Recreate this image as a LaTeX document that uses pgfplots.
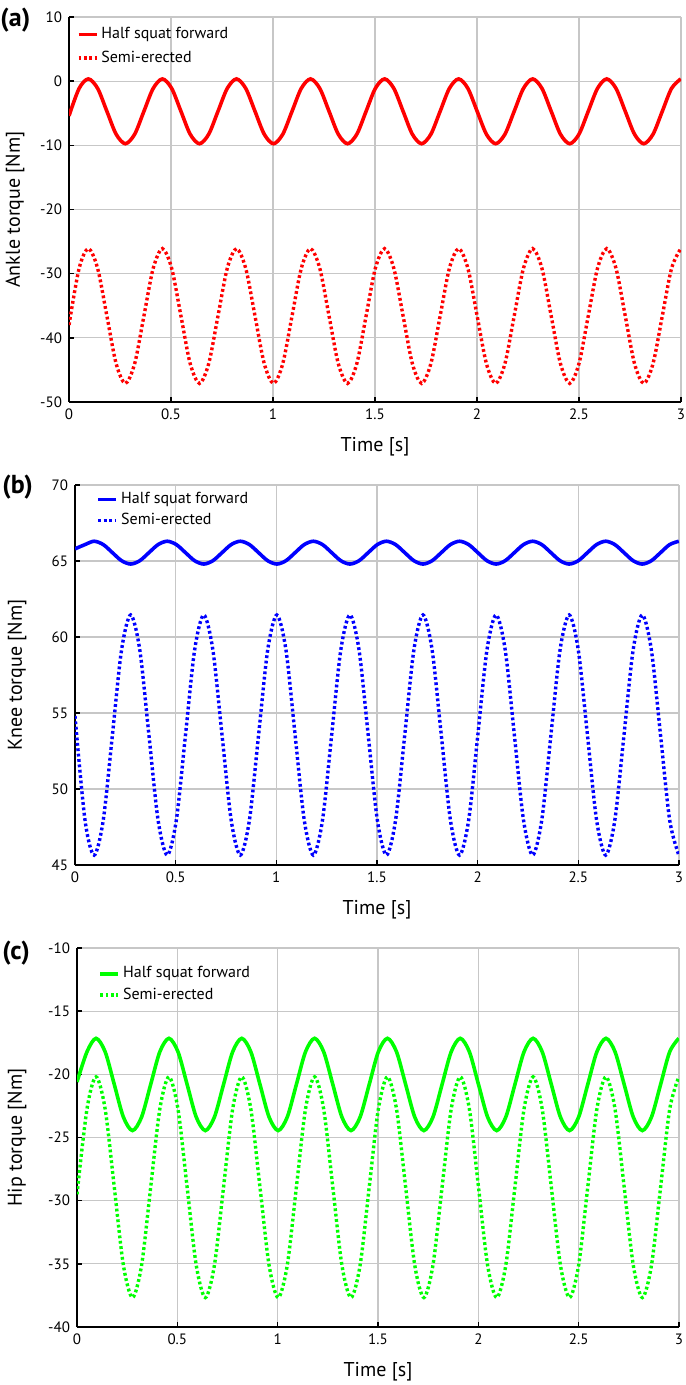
\documentclass[border=0pt]{standalone}
\usepackage{pgfplots}
\pgfplotsset{compat=1.18}
\usepackage{pgfplotstable}
\usepackage{fontspec}
\setmainfont{PT Sans}

\pgfplotstableread{
t a1 a2 b1 b2 c1 c2
0.0000 -5.40 -38.00 65.80 54.80 -20.60 -29.50
0.0496 -1.13 -29.18 66.08 47.96 -18.22 -22.76
0.0950 0.35 -26.10 66.30 45.65 -17.15 -20.20
0.1404 -1.13 -29.18 66.08 47.96 -18.22 -22.76
0.1858 -4.70 -36.60 65.55 53.55 -20.80 -28.93
0.2311 -8.27 -44.02 65.02 59.14 -23.38 -35.10
0.2765 -9.75 -47.10 64.80 61.45 -24.45 -37.67
0.3219 -8.27 -44.02 65.02 59.14 -23.38 -35.10
0.3672 -4.70 -36.60 65.55 53.55 -20.80 -28.93
0.4126 -1.13 -29.18 66.08 47.96 -18.22 -22.76
0.4580 0.35 -26.10 66.30 45.65 -17.15 -20.20
0.5034 -1.13 -29.18 66.08 47.96 -18.22 -22.76
0.5488 -4.70 -36.60 65.55 53.55 -20.80 -28.93
0.5941 -8.27 -44.02 65.02 59.14 -23.38 -35.10
0.6395 -9.75 -47.10 64.80 61.45 -24.45 -37.67
0.6849 -8.27 -44.02 65.02 59.14 -23.38 -35.10
0.7303 -4.70 -36.60 65.55 53.55 -20.80 -28.93
0.7756 -1.13 -29.18 66.08 47.96 -18.22 -22.76
0.8210 0.35 -26.10 66.30 45.65 -17.15 -20.20
0.8664 -1.13 -29.18 66.08 47.96 -18.22 -22.76
0.9118 -4.70 -36.60 65.55 53.55 -20.80 -28.93
0.9571 -8.27 -44.02 65.02 59.14 -23.38 -35.10
1.0025 -9.75 -47.10 64.80 61.45 -24.45 -37.67
1.0479 -8.27 -44.02 65.02 59.14 -23.38 -35.10
1.0933 -4.70 -36.60 65.55 53.55 -20.80 -28.93
1.1386 -1.13 -29.18 66.08 47.96 -18.22 -22.76
1.1840 0.35 -26.10 66.30 45.65 -17.15 -20.20
1.2294 -1.13 -29.18 66.08 47.96 -18.22 -22.76
1.2748 -4.70 -36.60 65.55 53.55 -20.80 -28.93
1.3201 -8.27 -44.02 65.02 59.14 -23.38 -35.10
1.3655 -9.75 -47.10 64.80 61.45 -24.45 -37.67
1.4109 -8.27 -44.02 65.02 59.14 -23.38 -35.10
1.4563 -4.70 -36.60 65.55 53.55 -20.80 -28.93
1.5016 -1.13 -29.18 66.08 47.96 -18.22 -22.76
1.5470 0.35 -26.10 66.30 45.65 -17.15 -20.20
1.5924 -1.13 -29.18 66.08 47.96 -18.22 -22.76
1.6378 -4.70 -36.60 65.55 53.55 -20.80 -28.93
1.6831 -8.27 -44.02 65.02 59.14 -23.38 -35.10
1.7285 -9.75 -47.10 64.80 61.45 -24.45 -37.67
1.7739 -8.27 -44.02 65.02 59.14 -23.38 -35.10
1.8193 -4.70 -36.60 65.55 53.55 -20.80 -28.93
1.8646 -1.13 -29.18 66.08 47.96 -18.22 -22.76
1.9100 0.35 -26.10 66.30 45.65 -17.15 -20.20
1.9554 -1.13 -29.18 66.08 47.96 -18.22 -22.76
2.0008 -4.70 -36.60 65.55 53.55 -20.80 -28.93
2.0461 -8.27 -44.02 65.02 59.14 -23.38 -35.10
2.0915 -9.75 -47.10 64.80 61.45 -24.45 -37.67
2.1369 -8.27 -44.02 65.02 59.14 -23.38 -35.10
2.1823 -4.70 -36.60 65.55 53.55 -20.80 -28.93
2.2276 -1.13 -29.18 66.08 47.96 -18.22 -22.76
2.2730 0.35 -26.10 66.30 45.65 -17.15 -20.20
2.3184 -1.13 -29.18 66.08 47.96 -18.22 -22.76
2.3638 -4.70 -36.60 65.55 53.55 -20.80 -28.93
2.4091 -8.27 -44.02 65.02 59.14 -23.38 -35.10
2.4545 -9.75 -47.10 64.80 61.45 -24.45 -37.67
2.4999 -8.27 -44.02 65.02 59.14 -23.38 -35.10
2.5453 -4.70 -36.60 65.55 53.55 -20.80 -28.93
2.5906 -1.13 -29.18 66.08 47.96 -18.22 -22.76
2.6360 0.35 -26.10 66.30 45.65 -17.15 -20.20
2.6814 -1.13 -29.18 66.08 47.96 -18.22 -22.76
2.7268 -4.70 -36.60 65.55 53.55 -20.80 -28.93
2.7721 -8.27 -44.02 65.02 59.14 -23.38 -35.10
2.8175 -9.75 -47.10 64.80 61.45 -24.45 -37.67
2.8629 -8.27 -44.02 65.02 59.14 -23.38 -35.10
2.9083 -4.70 -36.60 65.55 53.55 -20.80 -28.93
2.9536 -1.13 -29.18 66.08 47.96 -18.22 -22.76
2.9990 0.35 -26.10 66.30 45.65 -17.15 -20.20
}\data

\pgfplotsset{
  torque/.style={
    scale only axis,
    xmin=0, xmax=3,
    xtick={0,0.5,1,1.5,2,2.5,3},
    enlargelimits=false,
    axis x line*=bottom, axis y line*=left,
    axis line style={line width=1pt,-},
    tick align=inside, major tick length=2.5pt,
    tick style={black, line width=0.8pt},
    grid=major, major grid style={color=black!22, line width=0.6pt},
    ticklabel style={font=\fontsize{7.5}{8}\selectfont},
    /pgf/number format/assume math mode=true,
    label style={font=\fontsize{10.5}{12}\selectfont},
    xlabel={Time [s]},
    every axis x label/.style={at={(axis description cs:0.5,-0.117)}, anchor=center},
    legend cell align=left,
    legend style={draw=none, fill=none, inner sep=0pt,
      font=\fontsize{8}{9}\selectfont, row sep=0.5pt,
      nodes={inner sep=1.5pt}},
    legend image code/.code={\draw[#1] (0pt,0pt) -- (9pt,0pt);},
  },
  full/.style={line width=1.8pt, smooth},
  dots/.style={line width=1.7pt, smooth, dash pattern=on 1.4pt off 1.3pt},
}

\begin{document}
\begin{tikzpicture}
\useasboundingbox (0,0) rectangle (342.5pt,-692.5pt);

% (a)
\begin{axis}[torque,
  at={(34.5pt,-8.5pt)}, anchor=north west,
  width=306pt, height=192.5pt,
  ymin=-50, ymax=10, ytick={-50,-40,...,10},
  ylabel={Ankle torque [Nm]},
  every axis y label/.style={at={(axis description cs:-0.088,0.5)}, anchor=center, rotate=90},
  legend style={at={(axis description cs:0.012,0.982)}, anchor=north west, row sep=1.5pt},
]
\addplot[full, red] table[x=t, y=a1] {\data};
\addlegendentry{Half squat forward}
\addplot[dots, red] table[x=t, y=a2] {\data};
\addlegendentry{Semi-erected}
\end{axis}

% (b)
\begin{axis}[torque,
  at={(37.5pt,-242.5pt)}, anchor=north west,
  width=302pt, height=190pt,
  ymin=45, ymax=70, ytick={45,50,...,70},
  ylabel={Knee torque [Nm]},
  every axis y label/.style={at={(axis description cs:-0.096,0.5)}, anchor=center, rotate=90},
  legend style={at={(axis description cs:0.035,0.99)}, anchor=north west},
]
\addplot[full, blue] table[x=t, y=b1] {\data};
\addlegendentry{Half squat forward}
\addplot[dots, blue] table[x=t, y=b2] {\data};
\addlegendentry{Semi-erected}
\end{axis}

% (c)
\begin{axis}[torque,
  at={(38.5pt,-474pt)}, anchor=north west,
  width=301pt, height=189.5pt,
  ymin=-40, ymax=-10, ytick={-40,-35,...,-10},
  ylabel={Hip torque [Nm]},
  every axis y label/.style={at={(axis description cs:-0.0997,0.5)}, anchor=center, rotate=90},
  legend style={at={(axis description cs:0.035,0.96)}, anchor=north west},
]
\addplot[full, green] table[x=t, y=c1] {\data};
\addlegendentry{Half squat forward}
\addplot[dots, green] table[x=t, y=c2] {\data};
\addlegendentry{Semi-erected}
\end{axis}

\node[anchor=west, font=\bfseries\fontsize{13}{14}\selectfont, inner sep=0pt] at (0pt,-10pt) {(a)};
\node[anchor=west, font=\bfseries\fontsize{13}{14}\selectfont, inner sep=0pt] at (1pt,-243.5pt) {(b)};
\node[anchor=west, font=\bfseries\fontsize{13}{14}\selectfont, inner sep=0pt] at (1pt,-476.5pt) {(c)};
\end{tikzpicture}
\end{document}
